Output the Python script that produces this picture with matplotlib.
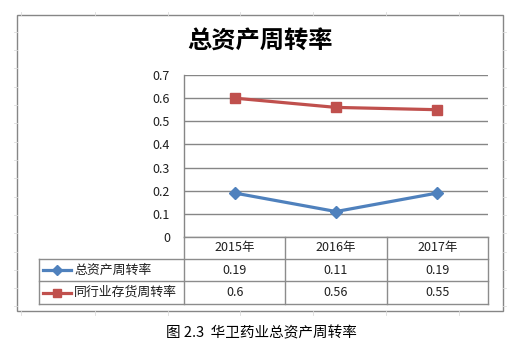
import matplotlib
matplotlib.use("Agg")
import matplotlib.pyplot as plt
import matplotlib.transforms as mtransforms
from matplotlib.lines import Line2D
from matplotlib.patches import Rectangle

plt.rcParams['font.family'] = ['Noto Sans CJK SC', 'DejaVu Sans']

title = "总资产周转率"
caption = "图 2.3  华卫药业总资产周转率"
categories = ["2015年", "2016年", "2017年"]
series_names = ["总资产周转率", "同行业存货周转率"]
asset_turnover = [0.19, 0.11, 0.19]
industry_turnover = [0.6, 0.56, 0.55]
value_labels = [["0.19", "0.11", "0.19"], ["0.6", "0.56", "0.55"]]
yticks = [0, 0.1, 0.2, 0.3, 0.4, 0.5, 0.6, 0.7]
ytick_labels = ["0", "0.1", "0.2", "0.3", "0.4", "0.5", "0.6", "0.7"]

W, H = 528, 350
BLUE = "#4F81BD"
RED = "#C0504D"
GRID = "#868686"
TXT = "#1f1f1f"

def fx(px):
    return px / W

def fy(py):
    return 1 - py / H

fig = plt.figure(figsize=(W / 100, H / 100), dpi=100)
fig.patch.set_facecolor("white")

# faint worksheet cell marks outside the chart
for x in [21, 95, 168, 240, 313, 386, 459]:
    fig.add_artist(Line2D([fx(x), fx(x)], [fy(12), fy(15)], color="#dcdcdc", lw=0.6))
    fig.add_artist(Line2D([fx(x), fx(x)], [fy(311), fy(315)], color="#dcdcdc", lw=0.6))
for y in [32, 50, 68, 87, 105, 123, 142, 160, 178, 197, 215, 233, 252, 270, 288, 306]:
    fig.add_artist(Line2D([fx(14), fx(17)], [fy(y), fy(y)], color="#dcdcdc", lw=0.6))
    fig.add_artist(Line2D([fx(503), fx(506)], [fy(y), fy(y)], color="#dcdcdc", lw=0.6))

# chart border
fig.add_artist(Rectangle((fx(17), fy(311)), fx(503) - fx(17), fy(15) - fy(311),
                         fill=False, edgecolor=GRID, lw=1.0))

ax_l, ax_r, ax_t, ax_b = 184, 488, 75, 237
ax = fig.add_axes([fx(ax_l), fy(ax_b), fx(ax_r) - fx(ax_l), fy(ax_t) - fy(ax_b)])
x = list(range(len(categories)))
ax.plot(x, asset_turnover, color=BLUE, lw=2.3, marker="D", markersize=6.5,
        markerfacecolor=BLUE, markeredgecolor=BLUE, zorder=3, solid_joinstyle="round")
ax.plot(x, industry_turnover, color=RED, lw=2.3, marker="s", markersize=7,
        markerfacecolor=RED, markeredgecolor=RED, zorder=3, solid_joinstyle="round")
ax.set_xlim(-0.5, len(categories) - 0.5)
ax.set_ylim(0, 0.7)
ax.set_yticks(yticks)
ax.set_yticklabels(ytick_labels)
ax.set_xticks([])
ax.tick_params(axis="y", length=0, pad=10, labelsize=9, labelcolor=TXT)
ax.yaxis.grid(True, color=GRID, lw=1.0)
ax.set_axisbelow(True)
for s in ["top", "right", "bottom"]:
    ax.spines[s].set_visible(False)
ax.spines["left"].set_color(GRID)
ax.spines["left"].set_linewidth(1.0)

fig.text(fx(260), fy(42), title, ha="center", va="center", fontsize=17.5,
         fontweight="bold", color="black")

# data table
blend = mtransforms.blended_transform_factory(ax.transData, fig.transFigure)
row_edges = [237, 259, 281, 304]
tab_left = 39
TL = "#8c8c8c"
bounds = [i - 0.5 for i in range(len(categories) + 1)]
for b in bounds:
    fig.add_artist(Line2D([b, b], [fy(row_edges[0]), fy(row_edges[-1])],
                          transform=blend, color=TL, lw=1.0))
fig.add_artist(Line2D([fx(tab_left), fx(tab_left)], [fy(row_edges[1]), fy(row_edges[-1])],
                      color=TL, lw=1.0))
for r in row_edges[1:]:
    fig.add_artist(Line2D([fx(tab_left), fx(ax_r)], [fy(r), fy(r)], color=TL, lw=1.0))
fig.add_artist(Line2D([fx(ax_l), fx(ax_r)], [fy(row_edges[0]), fy(row_edges[0])],
                      color=TL, lw=1.0))

hdr_y = (row_edges[0] + row_edges[1]) / 2
for i, c in enumerate(categories):
    fig.text(i, fy(hdr_y), c, transform=blend, ha="center", va="center",
             fontsize=9, color=TXT)

colors = [BLUE, RED]
markers = ["D", "s"]
msizes = [5, 6]
for r in range(2):
    cy = (row_edges[r + 1] + row_edges[r + 2]) / 2
    fig.add_artist(Line2D([fx(43), fx(71)], [fy(cy), fy(cy)], color=colors[r], lw=2.3))
    fig.add_artist(Line2D([fx(57)], [fy(cy)], color=colors[r], marker=markers[r],
                          markersize=msizes[r], markerfacecolor=colors[r],
                          markeredgecolor=colors[r], lw=0))
    fig.text(fx(74), fy(cy), series_names[r], ha="left", va="center",
             fontsize=9.3, color=TXT)
    for i, v in enumerate(value_labels[r]):
        fig.text(i, fy(cy), v, transform=blend, ha="center", va="center",
                 fontsize=9, color=TXT)

fig.text(fx(261), fy(333), caption, ha="center", va="center", fontsize=10.5,
         color="black")

fig.savefig("out.png", dpi=100, facecolor="white")
